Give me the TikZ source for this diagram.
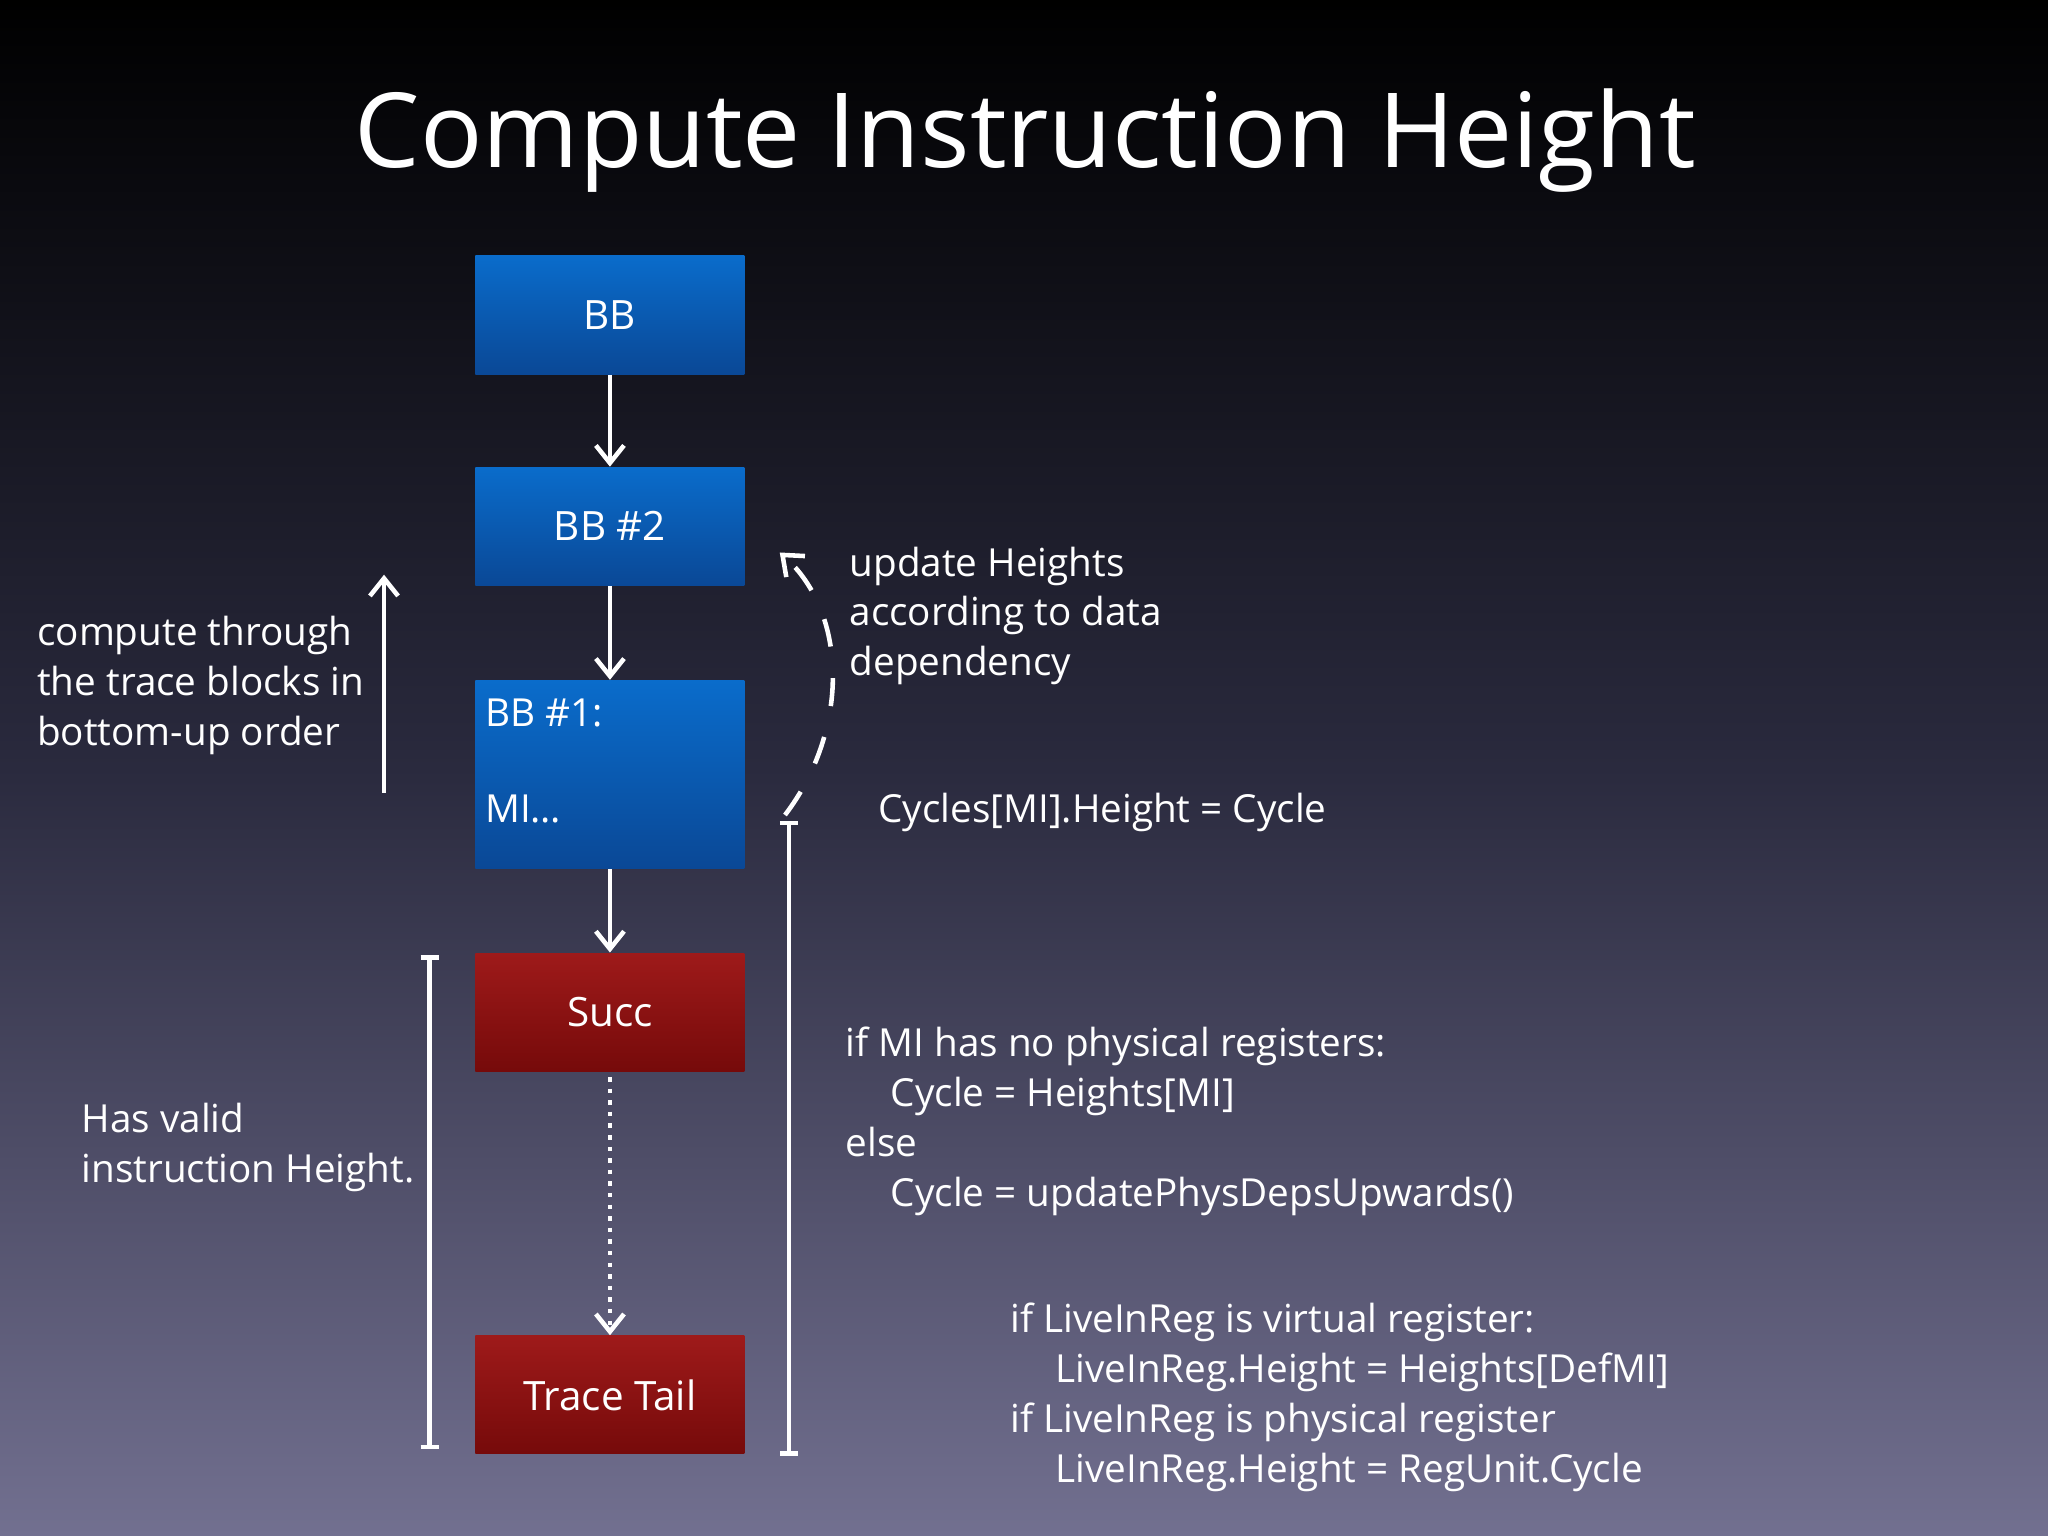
\documentclass[tikz,border=0pt]{standalone}
\usepackage{fontspec}
\setmainfont{Open Sans}
\usetikzlibrary{arrows.meta}
\definecolor{bgbot}{HTML}{727090}
\definecolor{bgmid}{HTML}{2A2A3E}
\definecolor{btop}{HTML}{0A6CCB}
\definecolor{bbot}{HTML}{0A4896}
\definecolor{rtop}{HTML}{9E1A1A}
\definecolor{rbot}{HTML}{760A0A}
\begin{document}
\begin{tikzpicture}[x=0.013061cm,y=-0.013061cm,
  txt/.style={text=white,font=\fontsize{11}{14.2}\selectfont,align=left,inner sep=0pt},
  blue box/.style={top color=btop,bottom color=bbot,draw=none,minimum width=2.69cm,inner sep=0pt},
  red box/.style={top color=rtop,bottom color=rbot,draw=none,minimum width=2.69cm,minimum height=1.18cm,inner sep=0pt},
  conn/.style={white,line width=1.3pt,-{Straight Barb[length=5pt,width=8pt]}}]
\shade[top color=black,bottom color=bgbot,middle color=bgmid] (0,0) rectangle (1568,1176);
\useasboundingbox (0,0) rectangle (1568,1176);
\node[text=white,font=\fontsize{29.5}{32}\selectfont] (title) at (785,108) {Compute Instruction Height};
\node[blue box,minimum height=1.19cm,text=white,font=\fontsize{11.5}{14}\selectfont] (bb) at (467,241) {BB};
\node[blue box,minimum height=1.18cm,text=white,font=\fontsize{11.5}{14}\selectfont] (bb2) at (467,403) {BB \#2};
\node[blue box,minimum height=1.88cm] (bb1) at (467,593) {};
\node[txt,anchor=west] (bb1a) at (371,546) {BB \#1:};
\node[txt,anchor=west] (bb1b) at (371,619) {MI\dots};
\node[red box,text=white,font=\fontsize{11.5}{14}\selectfont] (succ) at (467,775) {Succ};
\node[red box,text=white,font=\fontsize{11.5}{14}\selectfont] (tail) at (467,1068) {Trace Tail};
\draw[conn] (bb.south) -- (bb2.north);
\draw[conn] (bb2.south) -- (bb1.north);
\draw[conn] (bb1.south) -- (succ.north);
\draw[conn,dotted] ([yshift=-0.05cm]succ.south) -- (tail.north);
\coordinate (ua) at (294,607); \coordinate (ub) at (294,440);
\draw[conn] (ua) -- (ub);
\node[txt,anchor=north west] (t1) at (28,471) {compute through\\the trace blocks in\\bottom-up order};
\coordinate (lb1) at (329,733); \coordinate (lb2) at (329,1108);
\draw[white,line width=1.3pt] (lb1) -- (lb2) (322,733) -- (336,733) (322,1108) -- (336,1108);
\node[txt,anchor=north west] (t2) at (62,844) {Has valid\\instruction Height.};
\draw[white,line width=1.3pt] (604,630) -- (604,1113) (597,630) -- (611,630) (597,1113) -- (611,1113);
\coordinate (d1) at (601,624); \coordinate (d2) at (597,423);
\draw[conn,dash pattern=on 8pt off 9pt] (d1) .. controls (650,560) and (650,470) .. (d2);
\node[txt,anchor=north west] (t3) at (650,418) {update Heights\\according to data\\dependency};
\node[txt,anchor=west] (t4) at (672,622) {Cycles[MI].Height = Cycle};
\node[txt,anchor=north west] (t5) at (647,786) {if MI has no physical registers:\\\hspace*{0.45cm}Cycle = Heights[MI]\\else\\\hspace*{0.45cm}Cycle = updatePhysDepsUpwards()};
\node[txt,anchor=north west] (t6) at (773,997) {if LiveInReg is virtual register:\\\hspace*{0.45cm}LiveInReg.Height = Heights[DefMI]\\if LiveInReg is physical register\\\hspace*{0.45cm}LiveInReg.Height = RegUnit.Cycle};
\end{tikzpicture}
\end{document}
